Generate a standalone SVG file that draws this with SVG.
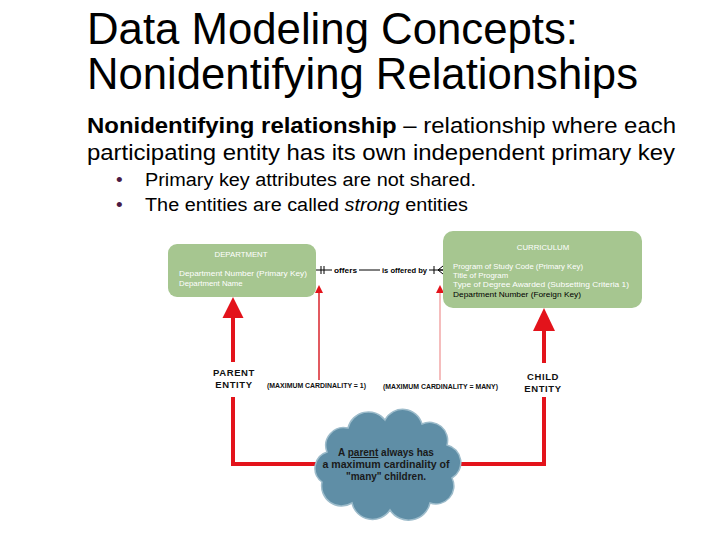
<svg xmlns="http://www.w3.org/2000/svg" width="720" height="540" viewBox="0 0 720 540">
<defs>
<style>
text{font-family:"Liberation Sans",Arial,sans-serif}
.title{font-size:44px;fill:#000}
.sub{font-size:22px;fill:#000}
.bul{font-size:18px;fill:#000}
.dot{font-size:19px;fill:#4a1a44}
.box{fill:#a6c690}
.bt{font-size:7.8px;fill:#fff}
.bk{font-size:7.8px;fill:#000}
.rel{font-size:8px;font-weight:bold;fill:#000}
.lab{font-size:9.5px;font-weight:bold;fill:#111;text-anchor:middle;letter-spacing:0.6px}
.card{font-size:6.4px;font-weight:bold;fill:#111}
.cl{font-size:10px;font-weight:bold;fill:#1a1a1a;text-anchor:middle}
.red{stroke:#e3131b;fill:none}
</style>
</defs>
<rect width="720" height="540" fill="#fff"/>
<g id="heading">
<text class="title" x="87" y="44" textLength="491" lengthAdjust="spacingAndGlyphs">Data Modeling Concepts:</text>
<text class="title" x="87" y="89" textLength="551" lengthAdjust="spacingAndGlyphs">Nonidentifying Relationships</text>
<text class="sub" x="87" y="133" textLength="589" lengthAdjust="spacingAndGlyphs"><tspan font-weight="bold">Nonidentifying relationship</tspan> – relationship where each</text>
<text class="sub" x="87" y="160" textLength="588" lengthAdjust="spacingAndGlyphs">participating entity has its own independent primary key</text>
<text class="dot" x="116" y="186">•</text>
<text class="bul" x="145" y="186" textLength="331" lengthAdjust="spacingAndGlyphs">Primary key attributes are not shared.</text>
<text class="dot" x="116" y="211">•</text>
<text class="bul" x="145" y="211" textLength="323" lengthAdjust="spacingAndGlyphs">The entities are called <tspan font-style="italic">strong</tspan> entities</text>
</g>
<g id="connectors">
<line x1="316" y1="270" x2="443" y2="270" stroke="#000" stroke-width="1"/>
<rect x="332" y="264" width="27" height="12" fill="#fff"/>
<rect x="380" y="264" width="49" height="12" fill="#fff"/>
<line x1="321" y1="266" x2="321" y2="274" stroke="#000" stroke-width="1"/>
<line x1="324" y1="266" x2="324" y2="274" stroke="#000" stroke-width="1"/>
<line x1="434" y1="266" x2="434" y2="274" stroke="#000" stroke-width="1"/>
<path d="M438 270 L443 266 M438 270 L443 270 M438 270 L443 274" stroke="#000" stroke-width="1" fill="none"/>
<text class="rel" x="334" y="273" textLength="23" lengthAdjust="spacingAndGlyphs">offers</text>
<text class="rel" x="382" y="273" textLength="45" lengthAdjust="spacingAndGlyphs">is offered by</text>
<line x1="319" y1="292" x2="319" y2="380" stroke="#d9232b" stroke-width="1.5"/>
<polygon points="319,285 315,293 323,293" fill="#e3131b"/>
<line x1="440" y1="292" x2="440" y2="380" stroke="#f2a7a7" stroke-width="1.5"/>
<polygon points="440,285 436,293 444,293" fill="#e3131b"/>
<polygon points="233,297 222.5,318 243.5,318" fill="#e3131b"/>
<line class="red" x1="233" y1="316" x2="233" y2="362" stroke-width="4"/>
<polyline class="red" points="233,397 233,464 322,464" stroke-width="4"/>
<polygon points="544,308 533,331 555,331" fill="#e3131b"/>
<line class="red" x1="544" y1="329" x2="544" y2="363" stroke-width="4"/>
<polyline class="red" points="544,397 544,464 450,464" stroke-width="4"/>
</g>
<g id="department">
<rect class="box" x="168" y="244" width="148" height="53" rx="9"/>
<text class="bt" x="241" y="257" text-anchor="middle">DEPARTMENT</text>
<text class="bt" x="179" y="276" textLength="128" lengthAdjust="spacingAndGlyphs">Department Number (Primary Key)</text>
<text class="bt" x="179" y="286">Department Name</text>
</g>
<g id="curriculum">
<rect class="box" x="443" y="231" width="199" height="77" rx="10"/>
<text class="bt" x="543" y="250" text-anchor="middle">CURRICULUM</text>
<text class="bt" x="453" y="269" textLength="130" lengthAdjust="spacingAndGlyphs">Program of Study Code (Primary Key)</text>
<text class="bt" x="453" y="278">Title of Program</text>
<text class="bt" x="453" y="287" textLength="176" lengthAdjust="spacingAndGlyphs">Type of Degree Awarded (Subsetting Criteria 1)</text>
<text class="bk" x="453" y="297" textLength="128" lengthAdjust="spacingAndGlyphs">Department Number (Foreign Key)</text>
</g>
<g id="parent-label">
<text class="lab" x="234" y="376">PARENT</text>
<text class="lab" x="234" y="388">ENTITY</text>
</g>
<g id="child-label">
<text class="lab" x="543" y="380">CHILD</text>
<text class="lab" x="543" y="392">ENTITY</text>
</g>
<g id="cardinality">
<text class="card" x="267" y="388" textLength="99" lengthAdjust="spacingAndGlyphs">(MAXIMUM CARDINALITY = 1)</text>
<text class="card" x="383" y="389" textLength="115" lengthAdjust="spacingAndGlyphs">(MAXIMUM CARDINALITY = MANY)</text>
</g>
<g id="cloud">
<path d="M327 452 A18 18 0 0 1 348 428 A21 21 0 0 1 385 420 A20 20 0 0 1 422 424 A18 18 0 0 1 447 445 A18 18 0 0 1 452 478 A18 18 0 0 1 430 503 A22 22 0 0 1 390 510 A21 21 0 0 1 352 503 A20 20 0 0 1 322 482 A17 17 0 0 1 327 452 Z" fill="#5f8ea6" stroke="#9dbccb" stroke-width="1.5"/>
<text class="cl" x="386" y="456">A <tspan text-decoration="underline">parent</tspan> always has</text>
<text class="cl" x="386" y="468" textLength="127" lengthAdjust="spacingAndGlyphs">a maximum cardinality of</text>
<text class="cl" x="386" y="480">"many" children.</text>
</g>
</svg>
